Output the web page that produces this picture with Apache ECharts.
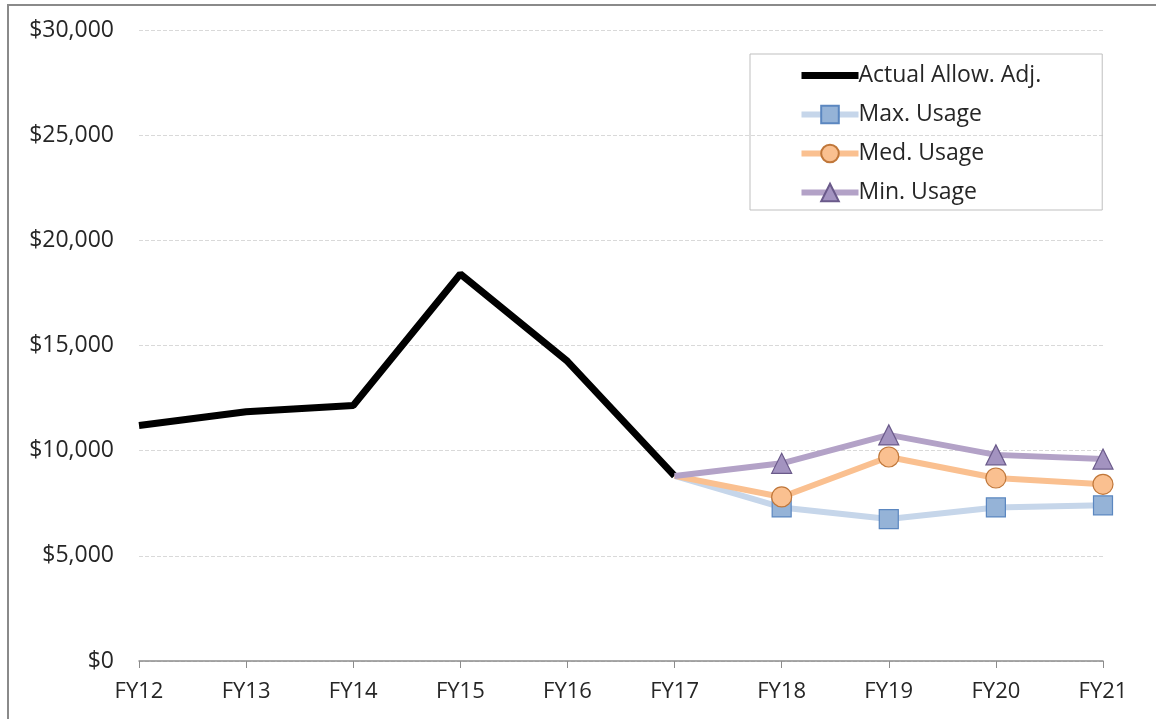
<!DOCTYPE html>
<html>
<head>
<meta charset="utf-8">
<script src="https://cdn.jsdelivr.net/npm/echarts@6/dist/echarts.min.js"></script>
<style>
  html, body { margin: 0; padding: 0; background: #fff; }
  #chart { width: 1156px; height: 719px; }
</style>
</head>
<body>
<div id="chart"></div>
<script>
// 横轴类别
const years = ['FY12', 'FY13', 'FY14', 'FY15', 'FY16', 'FY17', 'FY18', 'FY19', 'FY20', 'FY21']
// 实际数据
const actualAdj = [11200, 11850, 12150, 18400, 14250, 8800, null, null, null, null]
// 预测数据（从FY17开始）
const maxUsage = [null, null, null, null, null, 8800, 7300, 6750, 7300, 7400]
const medUsage = [null, null, null, null, null, 8800, 7800, 9700, 8700, 8400]
const minUsage = [null, null, null, null, null, 8800, 9400, 10750, 9800, 9600]

const font = '"Open Sans", Lato, sans-serif'
const textColor = '#262626'

// FY17 起点不画标记
const hideStart = (arr) => arr.map((v, i) => (i === 5 ? { value: v, symbol: 'none' } : v))

const chart = echarts.init(document.getElementById('chart'))

const option = {
  animation: false,
  backgroundColor: '#fff',
  textStyle: { fontFamily: font },
  graphic: [
    {
      type: 'rect',
      shape: { x: 8, y: 5, width: 1300, height: 900 },
      style: { fill: 'none', stroke: '#8a8a8a', lineWidth: 2 },
      silent: true
    }
  ],
  grid: {
    left: 139,
    right: 53,
    top: 30,
    bottom: 58
  },
  legend: {
    orient: 'vertical',
    left: 750,
    top: 54,
    padding: [10, 61, 6, 48],
    borderColor: '#bfbfbf',
    borderWidth: 1,
    itemWidth: 57,
    itemHeight: 22,
    itemGap: 16,
    textStyle: { fontFamily: font, fontSize: 23, color: textColor, padding: [0, 0, 0, -5] },
    data: [
      { name: 'Actual Allow. Adj.', lineStyle: { width: 7 }, itemStyle: { opacity: 0 } },
      { name: 'Max. Usage', lineStyle: { width: 6 } },
      { name: 'Med. Usage', lineStyle: { width: 6 } },
      { name: 'Min. Usage', lineStyle: { width: 6 } }
    ]
  },
  xAxis: {
    type: 'category',
    boundaryGap: false,
    data: years,
    axisLine: { lineStyle: { color: '#8c8c8c', width: 1.5 } },
    axisTick: { show: true, length: 7, lineStyle: { color: '#8c8c8c' } },
    axisLabel: { fontSize: 22, color: textColor, margin: 20, fontFamily: font }
  },
  yAxis: {
    type: 'value',
    min: 0,
    max: 30000,
    interval: 5000,
    axisLine: { show: false },
    axisTick: { show: false },
    axisLabel: {
      fontSize: 23,
      color: textColor,
      margin: 25,
      fontFamily: font,
      formatter: (v) => '$' + v.toLocaleString('en-US')
    },
    splitLine: { lineStyle: { color: '#d9d9d9', type: 'dashed' } }
  },
  series: [
    {
      name: 'Actual Allow. Adj.',
      type: 'line',
      data: actualAdj,
      symbol: 'none',
      lineStyle: { color: '#000', width: 7 },
      itemStyle: { color: '#000' }
    },
    {
      name: 'Max. Usage',
      type: 'line',
      data: hideStart(maxUsage),
      symbol: 'rect',
      symbolSize: 19,
      lineStyle: { color: '#c6d6ea', width: 6 },
      itemStyle: { color: '#95b3d7', borderColor: '#5b87c0', borderWidth: 1.2, opacity: 1 }
    },
    {
      name: 'Med. Usage',
      type: 'line',
      data: hideStart(medUsage),
      symbol: 'circle',
      symbolSize: 20,
      lineStyle: { color: '#fac090', width: 6 },
      itemStyle: { color: '#fac090', borderColor: '#c0773a', borderWidth: 1.2, opacity: 1 }
    },
    {
      name: 'Min. Usage',
      type: 'line',
      data: hideStart(minUsage),
      symbol: 'triangle',
      symbolSize: 20,
      lineStyle: { color: '#b3a2c7', width: 6 },
      itemStyle: { color: '#a393c0', borderColor: '#6a5a8a', borderWidth: 1.2, opacity: 1 }
    }
  ]
}

chart.setOption(option)
</script>
</body>
</html>
